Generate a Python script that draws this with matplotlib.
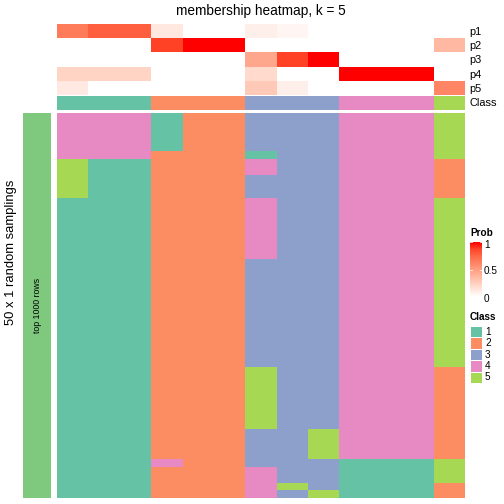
import matplotlib
matplotlib.use("Agg")
import matplotlib.pyplot as plt
import numpy as np
from matplotlib.colors import ListedColormap, LinearSegmentedColormap
from matplotlib.patches import Rectangle

plt.rcParams['font.family'] = ['Liberation Sans', 'DejaVu Sans']

# membership probabilities per sample (13 columns)
p1 = [0.66, 0.78, 0.78, 0.12, 0, 0, 0.08, 0.05, 0, 0, 0, 0, 0]
p2 = [0, 0, 0, 0.88, 1, 1, 0, 0, 0, 0, 0, 0, 0.37]
p3 = [0, 0, 0, 0, 0, 0, 0.45, 0.88, 1, 0, 0, 0, 0]
p4 = [0.22, 0.22, 0.22, 0, 0, 0, 0.19, 0, 0, 1, 1, 1, 0]
p5 = [0.11, 0, 0, 0, 0, 0, 0.28, 0.08, 0, 0, 0, 0, 0.62]
prob_names = ['p1', 'p2', 'p3', 'p4', 'p5']

# final class of each sample
sample_class = [1, 1, 1, 2, 2, 2, 3, 3, 3, 4, 4, 4, 5]

# class assignment in each of the 50 random samplings (one string per row)
samplings = [
    "4441223334445", "4441223334445", "4441223334445", "4441223334445",
    "4441223334445", "4442221334445", "5112224334442", "5112224334442",
    "5112223334442", "5112223334442", "5112223334442", "1112224334445",
    "1112224334445", "1112224334445", "1112224334445", "1112224334445",
    "1112224334445", "1112224334445", "1112224334445", "1112223334445",
    "1112223334445", "1112223334445", "1112223334445", "1112223334445",
    "1112223334445", "1112223334445", "1112223334445", "1112223334445",
    "1112223334445", "1112223334445", "1112223334445", "1112223334445",
    "1112223334445", "1112225334442", "1112225334442", "1112225334442",
    "1112225334442", "1112225334442", "1112225334442", "1112225334442",
    "1112225334442", "1112223354442", "1112223354442", "1112223354442",
    "1112223354442", "1114223331115", "1112224331115", "1112224331115",
    "1112224531112", "1112224351112",
]

class_labels = ['1', '2', '3', '4', '5']
class_colors = ['#66C2A5', '#FC8D62', '#8DA0CB', '#E78AC3', '#A6D854']

# white -> red ramp (LAB-like interpolation)
prob_cmap = LinearSegmentedColormap.from_list('prob', [
    (0, '#FFFFFF'), (0.125, '#FFE7DE'), (0.25, '#FFCFBE'), (0.375, '#FFB7A0'),
    (0.5, '#FF9E81'), (0.625, '#FF8464'), (0.75, '#FF6846'), (0.875, '#FF4628'),
    (1, '#FF0000')])
class_cmap = ListedColormap(class_colors)

W = H = 504
ANNO_FS = 11
LEG_FS = 10
fig = plt.figure(figsize=(7, 7), dpi=72)


def add_ax(x0, y0, x1, y1):
    # pixel box (top-left origin) -> figure axes
    ax = fig.add_axes([x0 / W, 1 - y1 / H, (x1 - x0) / W, (y1 - y0) / H])
    ax.set_axis_off()
    return ax


# probability annotation
prob = np.array([p1, p2, p3, p4, p5])
ax_p = add_ax(57, 24, 465, 95)
ax_p.imshow(prob, cmap=prob_cmap, vmin=0, vmax=1, aspect='auto', interpolation='nearest')
for i, name in enumerate(prob_names):
    fig.text(469 / W, 1 - (32 + i * 14.2) / H, name, fontsize=ANNO_FS, va='center', ha='left')

# class annotation
ax_c = add_ax(57, 96, 465, 110)
ax_c.imshow(np.array([sample_class]) - 1, cmap=class_cmap, vmin=-0.5, vmax=4.5,
            aspect='auto', interpolation='nearest')
fig.text(469 / W, 1 - 102.5 / H, 'Class', fontsize=ANNO_FS, va='center', ha='left')

# main membership heatmap
mat = np.array([[int(ch) for ch in row] for row in samplings])
ax_m = add_ax(57, 113, 465, 498)
ax_m.imshow(mat - 1, cmap=class_cmap, vmin=-0.5, vmax=4.5, aspect='auto',
            interpolation='nearest')

# left row annotation
ax_l = add_ax(23, 113, 51, 498)
ax_l.imshow([[0]], cmap=ListedColormap(['#7FC97F']), aspect='auto')
ax_l.text(0.5, 0.5, 'top 1000 rows', transform=ax_l.transAxes, rotation=90,
          ha='center', va='center', fontsize=8.8)

fig.text(11 / W, 0.5, '50 x 1 random samplings', rotation=90, ha='center',
         va='center', fontsize=13)
fig.text(261 / W, 1 - 11 / H, 'membership heatmap, k = 5', ha='center',
         va='center', fontsize=13.6)

# Prob legend
fig.text(470 / W, 1 - 233 / H, 'Prob', fontsize=LEG_FS, fontweight='bold', va='center')
ax_cb = add_ax(470, 242, 482, 297)
ax_cb.imshow(np.linspace(1, 0, 100)[:, None], cmap=prob_cmap, vmin=0, vmax=1,
             aspect='auto', extent=[0, 1, 0, 1])
for v, lab in [(1, '1'), (0.5, '0.5'), (0, '0')]:
    ax_cb.plot([0, 0.2], [v, v], color='white', lw=0.8)
    ax_cb.plot([0.8, 1], [v, v], color='white', lw=0.8)
    fig.text(484 / W, 1 - (297 - v * 54 + 1.5) / H, lab, fontsize=LEG_FS, va='center')
ax_cb.set_xlim(0, 1)
ax_cb.set_ylim(0, 1)

# Class legend
fig.text(470 / W, 1 - 317 / H, 'Class', fontsize=LEG_FS, fontweight='bold', va='center')
ax_lg = add_ax(470, 326, 482, 383)
ax_lg.set_xlim(0, 1)
ax_lg.set_ylim(len(class_labels), 0)
for i, (lab, col) in enumerate(zip(class_labels, class_colors)):
    ax_lg.add_patch(Rectangle((0, i), 1, 1, facecolor=col, edgecolor='white', lw=1))
    fig.text(485 / W, 1 - (326 + (i + 0.5) * 11.4) / H, lab, fontsize=LEG_FS, va='center')

fig.savefig('out.png', dpi=72)
